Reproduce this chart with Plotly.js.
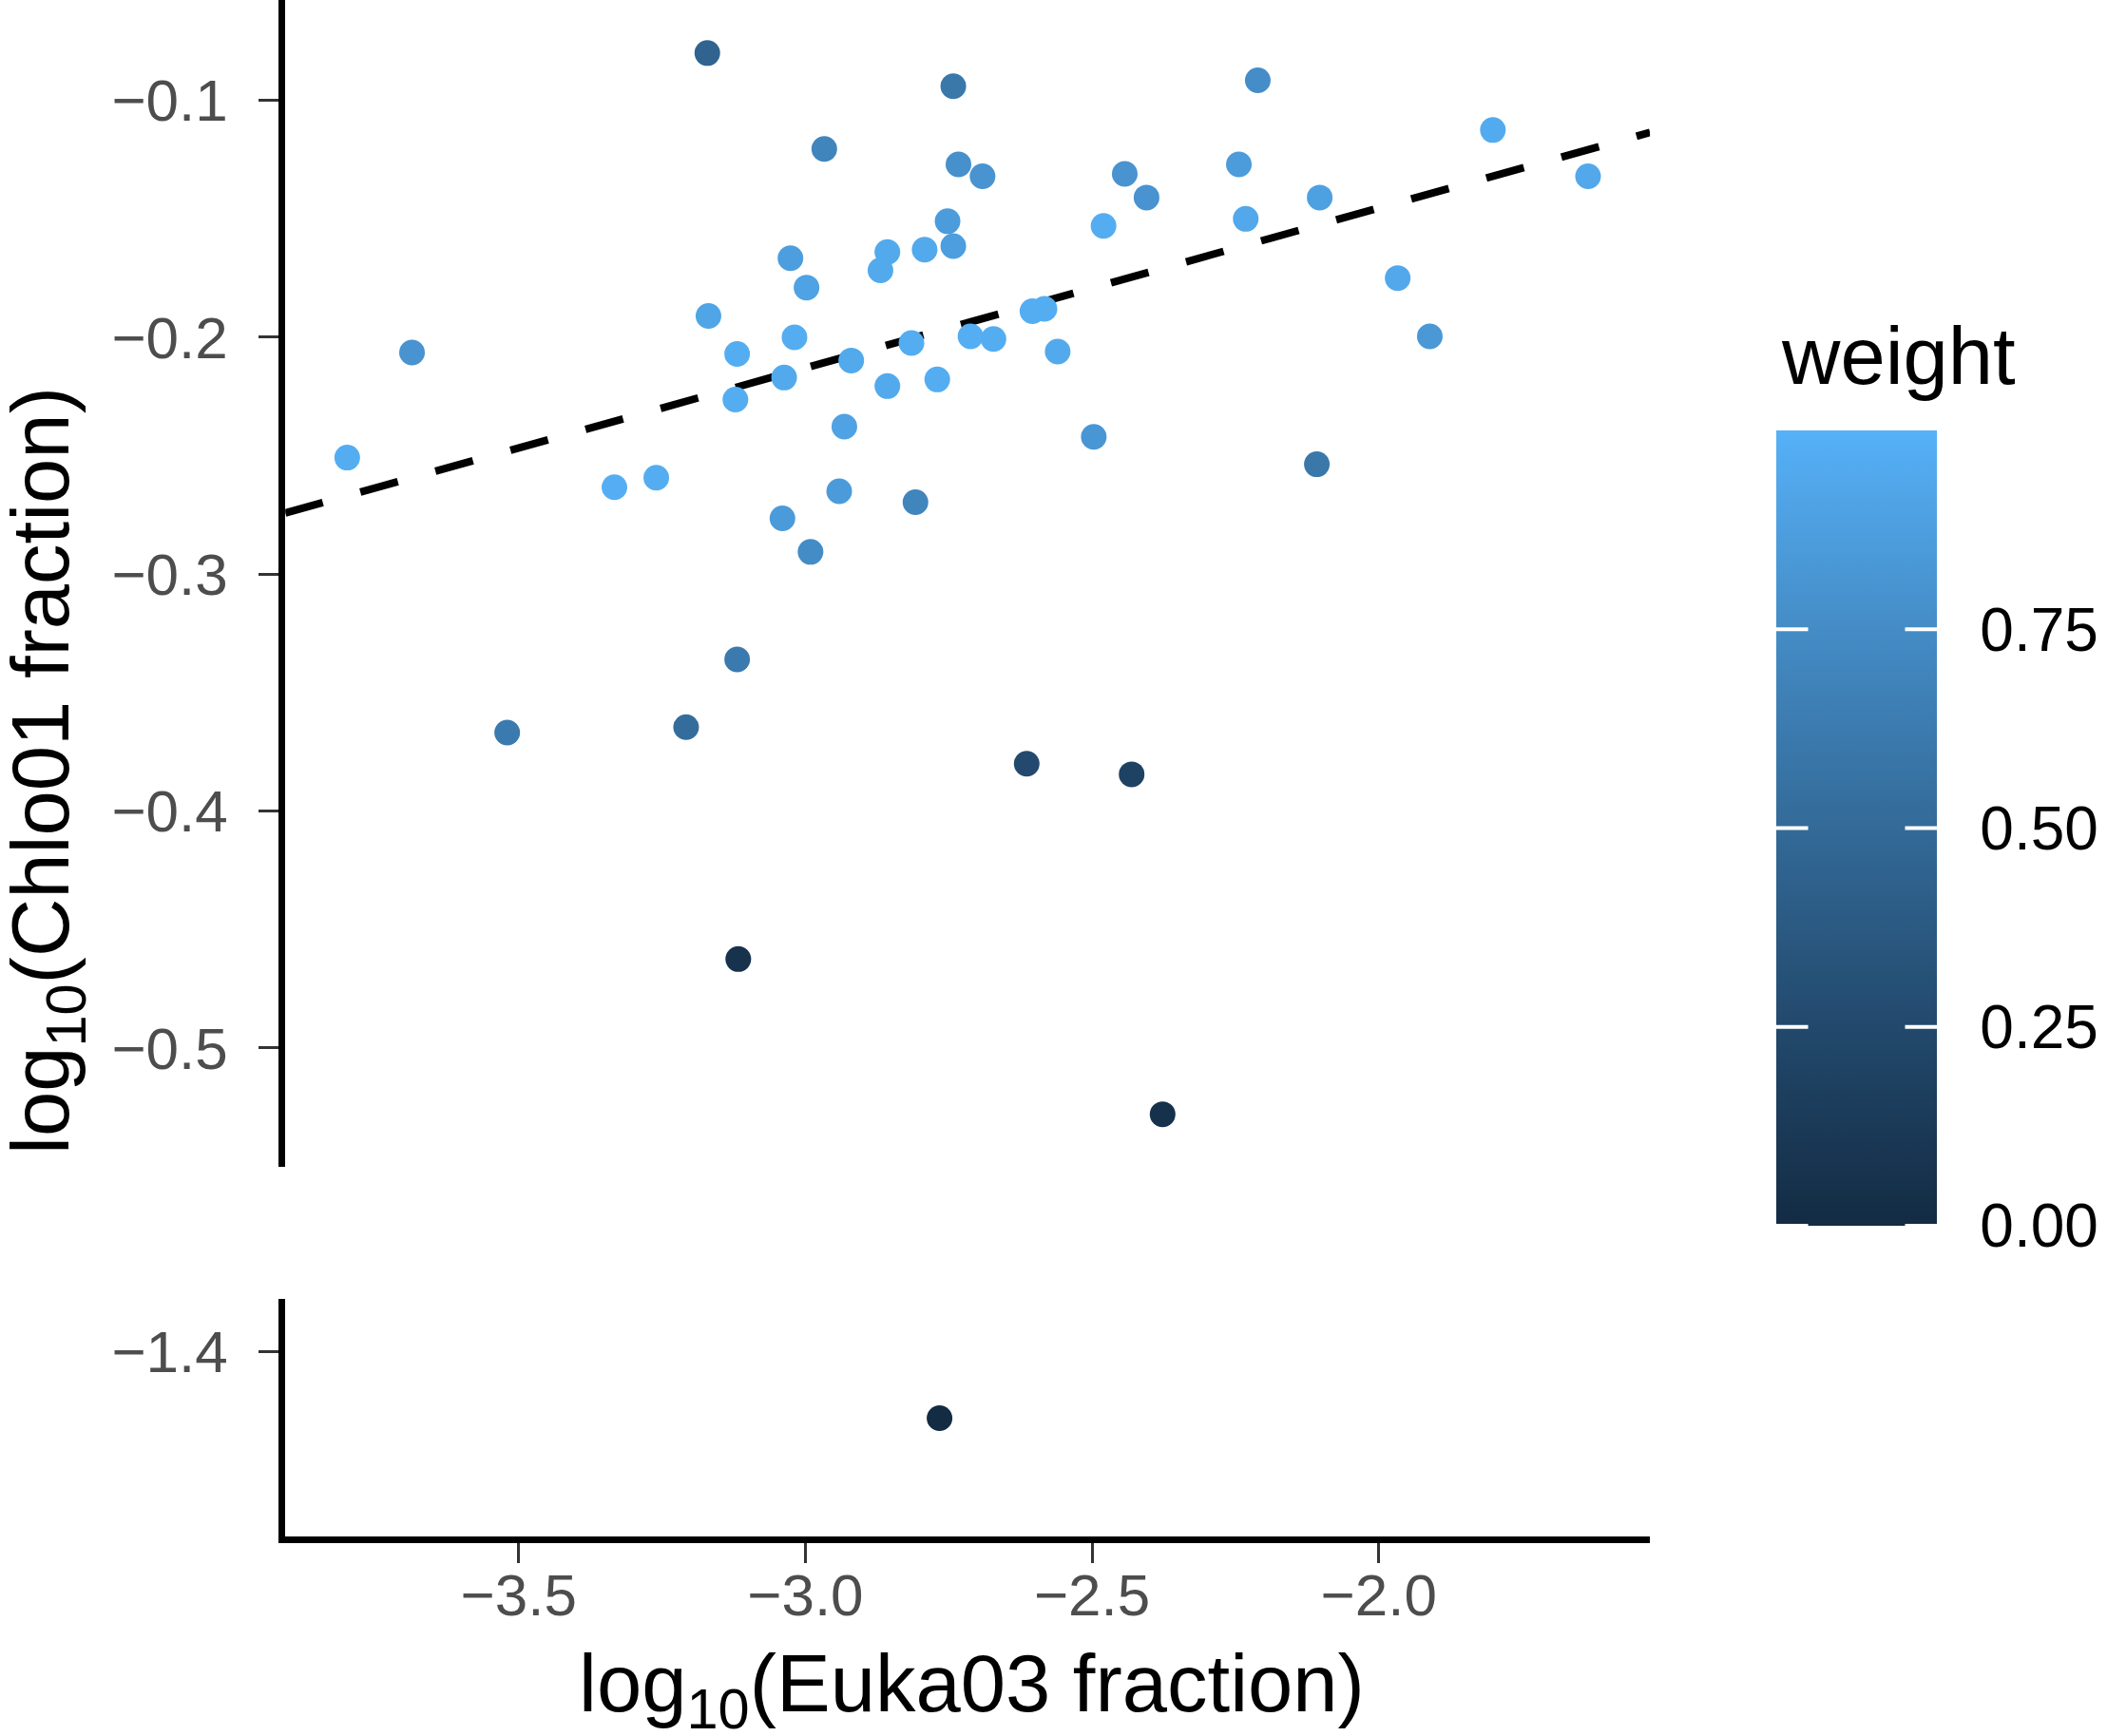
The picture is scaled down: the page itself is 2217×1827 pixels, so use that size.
<!DOCTYPE html>
<html>
<head>
<meta charset="utf-8">
<script src="https://cdn.plot.ly/plotly-3.0.1.min.js"></script>
<style>html,body{margin:0;padding:0;background:#fff;}#plot{width:2217px;height:1827px;}</style>
</head>
<body>
<div id="plot"></div>
<script>
// ---- data ----
var euka = [-3.171, -2.742, -2.967, -2.733, -2.691, -2.752, -2.742, -3.026, -2.857, -2.792,
            -2.869, -2.998, -3.169, -3.686, -3.799, -3.019, -3.119, -2.920, -3.037, -3.122,
            -2.815, -2.857, -2.770, -2.932, -3.333, -3.260, -2.941, -2.808, -3.040, -2.991,
            -3.119, -3.520, -3.208, -2.614, -2.431, -3.117, -2.377, -2.766,
            -2.712, -2.672, -2.604, -2.583, -2.560, -2.497, -2.480, -2.443, -2.405, -2.211,
            -2.244, -2.232, -2.103, -2.108, -1.967, -1.911, -1.801, -1.635];
var chlo = [-0.080, -0.094, -0.1205, -0.127, -0.132, -0.151, -0.1615, -0.1666, -0.164, -0.163,
            -0.1717, -0.179, -0.191, -0.2064, -0.2508, -0.200, -0.207, -0.2098, -0.217, -0.2263,
            -0.2024, -0.2206, -0.2178, -0.2377, -0.2633, -0.2593, -0.265, -0.2696, -0.2764, -0.2906,
            -0.336, -0.3669, -0.3646, -0.380, -0.3845, -0.4625, -0.528, -1.428,
            -0.1996, -0.2007, -0.189, -0.188, -0.206, -0.242, -0.153, -0.131, -0.141, -0.0915,
            -0.127, -0.150, -0.141, -0.2536, -0.175, -0.1996, -0.1125, -0.132];
var weight = [0.45, 0.60, 0.70, 0.78, 0.80, 0.86, 0.87, 0.87, 0.95, 0.95,
              0.95, 0.90, 0.92, 0.80, 0.97, 0.97, 0.97, 0.95, 0.95, 0.97,
              0.97, 0.95, 0.97, 0.90, 0.98, 0.97, 0.85, 0.70, 0.85, 0.75,
              0.62, 0.62, 0.52, 0.26, 0.19, 0.06, 0.05, 0.00,
              0.98, 0.97, 0.97, 0.97, 0.95, 0.82, 0.97, 0.80, 0.80, 0.76,
              0.86, 0.94, 0.89, 0.60, 0.94, 0.83, 0.96, 0.94];
// dashed regression line end points (across the panel)
var fitX = [-3.907, -1.527];
var fitY = [-0.2742, -0.1135];

var xTickVals = [-3.5, -3.0, -2.5, -2.0];
var xTickText = ['\u22123.5', '\u22123.0', '\u22122.5', '\u22122.0'];
var yTopTickVals = [-0.5, -0.4, -0.3, -0.2, -0.1];
var yTopTickText = ['\u22120.5', '\u22120.4', '\u22120.3', '\u22120.2', '\u22120.1'];
var yBotTickVals = [-1.4];
var yBotTickText = ['\u22121.4'];
var cbTickVals = [0, 0.25, 0.5, 0.75];
var cbTickText = ['0.00', '0.25', '0.50', '0.75'];

var breakAt = -1.0;   // y-axis break between panels

// ---- split data by panel ----
var upperPanel = {x: [], y: [], w: []}, lowerPanel = {x: [], y: [], w: []};
for (var i = 0; i < euka.length; i++) {
  var t = chlo[i] > breakAt ? upperPanel : lowerPanel;
  t.x.push(euka[i]); t.y.push(chlo[i]); t.w.push(weight[i]);
}

var FONT = 'Liberation Sans, Arial, Helvetica, sans-serif';
var colorscale = [[0, '#132B43'], [0.25, '#22496C'], [0.5, '#336A98'], [0.75, '#448CC6'], [1, '#56B1F7']];
var cmin = 0, cmax = 1.0;

var W = 2217, H = 1827;
var cbLenPx = 837, cbThick = 169;
var cbLeftPx = 1869, cbBottomPx = 1290;
var cbX = cbLeftPx / W, cbYc = (H - (cbBottomPx - cbLenPx / 2)) / H;

var traces = [
  {
    type: 'scatter', mode: 'lines', x: fitX, y: fitY, xaxis: 'x', yaxis: 'y',
    line: {color: '#000000', width: 8, dash: '41px,41px'}, hoverinfo: 'skip', showlegend: false
  },
  {
    type: 'scatter', mode: 'markers', x: upperPanel.x, y: upperPanel.y, xaxis: 'x', yaxis: 'y', showlegend: false,
    marker: {
      size: 27, color: upperPanel.w, colorscale: colorscale, cmin: cmin, cmax: cmax, line: {width: 0},
      showscale: true,
      colorbar: {
        x: cbX, xanchor: 'left', y: cbYc, yanchor: 'middle',
        lenmode: 'pixels', len: cbLenPx, thicknessmode: 'pixels', thickness: cbThick,
        xpad: 0, ypad: 0, outlinewidth: 0,
        tickmode: 'array', tickvals: cbTickVals, ticktext: cbTickText,
        ticks: 'outside', ticklen: 33, tickwidth: 1, tickcolor: 'rgba(255,255,255,0)',
        tickfont: {family: FONT, size: 64, color: '#000000'}
      }
    }
  },
  {
    type: 'scatter', mode: 'markers', x: lowerPanel.x, y: lowerPanel.y, xaxis: 'x', yaxis: 'y2', showlegend: false,
    marker: {size: 27, color: lowerPanel.w, colorscale: colorscale, cmin: cmin, cmax: cmax, line: {width: 0}, showscale: false}
  }
];

// white tick marks on both inner edges of the colour bar (ggplot style), placed with the colour bar scale
var cbTickAnn = [];
cbTickVals.forEach(function (v) {
  var yPx = cbBottomPx - (v - cmin) / (cmax - cmin) * cbLenPx;
  var yy = (H - yPx) / H;
  cbTickAnn.push({xref: 'paper', yref: 'paper', x: cbX, y: yy, text: '', showarrow: true,
    arrowhead: 0, arrowwidth: 4, arrowcolor: '#ffffff', ax: 35, ay: 0, standoff: 0, startstandoff: 0});
  cbTickAnn.push({xref: 'paper', yref: 'paper', x: (cbLeftPx + cbThick) / W, y: yy, text: '', showarrow: true,
    arrowhead: 0, arrowwidth: 4, arrowcolor: '#ffffff', ax: -35, ay: 0, standoff: 0, startstandoff: 0});
});

var axisCommon = {
  showline: true, linecolor: '#000000', linewidth: 7, mirror: false,
  showgrid: false, zeroline: false,
  ticks: 'outside', ticklen: 21, tickwidth: 3, tickcolor: '#333333',
  tickfont: {family: FONT, size: 62, color: '#4D4D4D'}, tickmode: 'array'
};

var layout = {
  width: W, height: H, autosize: false,
  margin: {l: 0, r: 0, t: 0, b: 0, pad: 0},
  paper_bgcolor: '#ffffff', plot_bgcolor: '#ffffff',
  showlegend: false,
  xaxis: Object.assign({}, axisCommon, {
    domain: [0.1354, 0.7831], range: [-3.907, -1.527], anchor: 'y2',
    tickvals: xTickVals, ticktext: xTickText, ticklabelstandoff: -19
  }),
  yaxis: Object.assign({}, axisCommon, {
    domain: [0.3276, 1.0], range: [-0.5504, -0.0576], anchor: 'x',
    tickvals: yTopTickVals, ticktext: yTopTickText, ticklabelstandoff: 20
  }),
  yaxis2: Object.assign({}, axisCommon, {
    domain: [0.1149, 0.2518], range: [-1.478, -1.3776], anchor: 'x',
    tickvals: yBotTickVals, ticktext: yBotTickText, ticklabelstandoff: 20
  }),
  annotations: [
    {text: 'log<sub>10</sub>(Euka03 fraction)', xref: 'paper', yref: 'paper',
     x: 1022 / W, y: (H - 1778) / H, xanchor: 'center', yanchor: 'middle', showarrow: false,
     font: {family: FONT, size: 85, color: '#000000'}},
    {text: 'log<sub>10</sub>(Chlo01 fraction)', xref: 'paper', yref: 'paper',
     x: 49 / W, y: (H - 811) / H, xanchor: 'center', yanchor: 'middle', showarrow: false, textangle: -90,
     font: {family: FONT, size: 85, color: '#000000'}},
    {text: 'weight', xref: 'paper', yref: 'paper',
     x: 1872 / W, y: (H - 374) / H, xanchor: 'left', yanchor: 'middle', showarrow: false,
     font: {family: FONT, size: 85, color: '#000000'}}
  ].concat(cbTickAnn)
};

Plotly.newPlot('plot', traces, layout, {displayModeBar: false, staticPlot: true});
</script>
</body>
</html>
